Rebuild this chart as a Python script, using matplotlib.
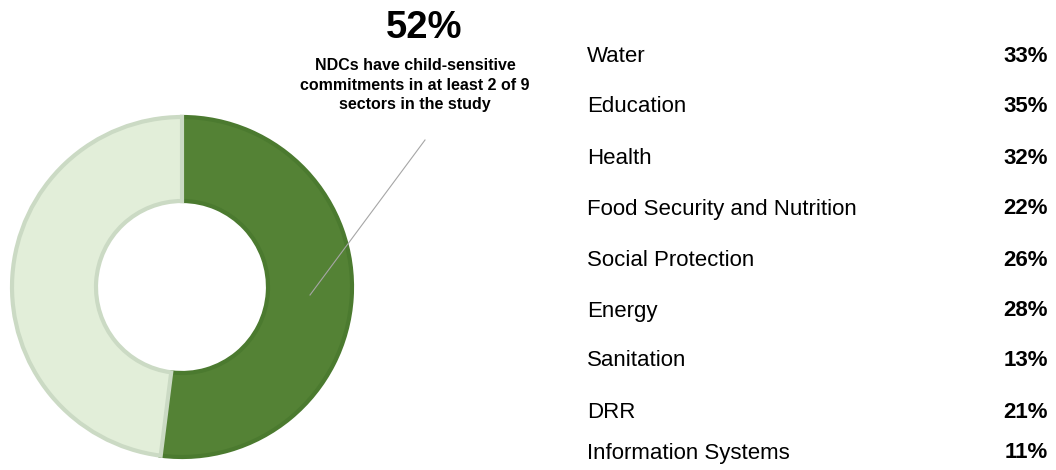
import matplotlib
matplotlib.use("Agg")
import matplotlib.pyplot as plt

plt.rcParams['font.family'] = ['Liberation Sans', 'DejaVu Sans']

share_values = [52, 48]
share_colors = ['#548235', '#e2eed9']
share_edges = ['#4b7a2f', '#cbdac4']
headline = "52%"
subtitle = "NDCs have child-sensitive\ncommitments in at least 2 of 9\nsectors in the study"

sectors = ["Water", "Education", "Health", "Food Security and Nutrition",
           "Social Protection", "Energy", "Sanitation", "DRR", "Information Systems"]
sector_pct = [33, 35, 32, 22, 26, 28, 13, 21, 11]
row_y = [57, 107, 158, 209, 260, 311, 361, 412, 453]

W, H = 1056, 470
fig = plt.figure(figsize=(W / 100, H / 100), dpi=100)
ax = fig.add_axes([0, 0, 1, 1])

wedges, _ = ax.pie(share_values, colors=share_colors, center=(182, H - 287), radius=170,
                   startangle=90, counterclock=False,
                   wedgeprops=dict(width=84, linewidth=3))
for w, ec in zip(wedges, share_edges):
    w.set_edgecolor(ec)

ax.plot([310, 425], [H - 295, H - 140], color='#a6a6a6', lw=0.8)

ax.text(424, H - 28, headline, ha='center', va='center', fontsize=27.5, fontweight='bold', color='black')
ax.text(415, H - 85, subtitle, ha='center', va='center', fontsize=11.5, fontweight='bold',
        color='black', linespacing=1.35)

for name, pct, y in zip(sectors, sector_pct, row_y):
    ax.text(587, H - y, name, ha='left', va='center', fontsize=16, color='black')
    ax.text(1048, H - y, f"{pct}%", ha='right', va='center', fontsize=16, fontweight='bold', color='black')

ax.set_xlim(0, W)
ax.set_ylim(0, H)
ax.set_aspect('auto')
ax.axis('off')
fig.savefig('out.png', dpi=100)
